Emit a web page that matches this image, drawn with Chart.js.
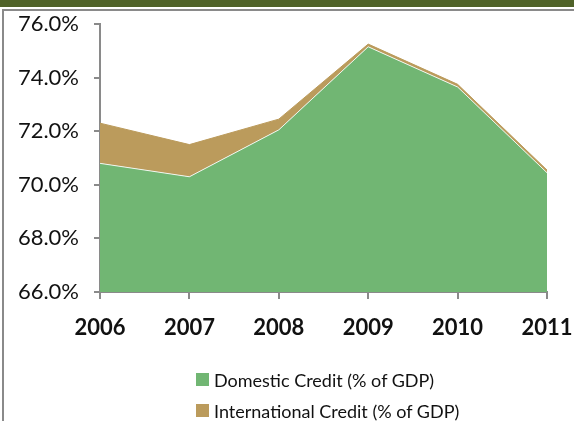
<!DOCTYPE html>
<html>
<head>
<meta charset="utf-8">
<script src="https://cdn.jsdelivr.net/npm/chart.js@4.4.1/dist/chart.umd.min.js"></script>
<style>
    body { margin: 0; background: #fff; }
    #wrap { position: relative; width: 574px; height: 421px; overflow: hidden; }
    #credit-chart { position: absolute; left: 0; top: 0; }
    #legend { position: absolute; left: 196px; top: 364px; font-family: Lato, sans-serif; font-size: 18px; color: #111; }
    #legend .item { display: flex; align-items: center; height: 31px; }
    #legend .swatch { width: 13px; height: 13px; margin-right: 5px; }
</style>
</head>
<body>
<div id="wrap">
    <canvas id="credit-chart" width="574" height="421"></canvas>
    <div id="legend"></div>
</div>
<script>
const years = ['2006', '2007', '2008', '2009', '2010', '2011'];
const domesticCredit = [70.8, 70.3, 72.05, 75.15, 73.65, 70.45];
const internationalCredit = [1.5, 1.2, 0.4, 0.1, 0.1, 0.1];
const yTicks = [66, 68, 70, 72, 74, 76];

const GREEN = '#71B673';
const BROWN = '#BB9B5C';
const AXIS = '#8A8A8A';

// olive band + grey frame around the whole panel
const framePlugin = {
    id: 'frame',
    beforeDraw(chart) {
        const ctx = chart.ctx;
        ctx.save();
        ctx.fillStyle = '#4F6228';
        ctx.fillRect(0, 0, chart.width, 7);
        ctx.fillStyle = AXIS;
        ctx.fillRect(2, 9, chart.width - 2, 2);
        ctx.fillRect(2, 9, 2, chart.height - 9);
        ctx.restore();
    }
};

const chart = new Chart(document.getElementById('credit-chart').getContext('2d'), {
    type: 'line',
    data: {
        labels: years,
        datasets: [{
            label: 'Domestic Credit (% of GDP)',
            data: domesticCredit,
            backgroundColor: GREEN,
            borderColor: 'rgba(255,255,255,0.85)',
            borderWidth: 1,
            fill: 'start',
            pointRadius: 0,
            tension: 0
        }, {
            label: 'International Credit (% of GDP)',
            data: internationalCredit,
            backgroundColor: BROWN,
            borderColor: BROWN,
            borderWidth: 1,
            fill: '-1',
            pointRadius: 0,
            tension: 0
        }]
    },
    options: {
        responsive: false,
        animation: false,
        layout: { padding: { top: 24, right: 27, left: 0, bottom: 0 } },
        plugins: {
            legend: { display: false },
            tooltip: { enabled: false }
        },
        scales: {
            x: {
                offset: false,
                grid: { drawOnChartArea: false, color: AXIS, tickLength: 7, lineWidth: 2 },
                border: { color: AXIS, width: 2 },
                ticks: {
                    color: '#111',
                    padding: 16,
                    maxRotation: 0,
                    autoSkip: false,
                    font: { family: 'Lato', size: 22, weight: 'bold' }
                },
                afterFit: (scale) => {
                    scale.height = 129;
                    scale.paddingLeft = 0;
                    scale.paddingRight = 0;
                }
            },
            y: {
                stacked: true,
                min: yTicks[0],
                max: yTicks[yTicks.length - 1],
                afterBuildTicks: (scale) => {
                    scale.ticks = yTicks.map(v => ({ value: v }));
                },
                grid: { drawOnChartArea: false, color: AXIS, tickLength: 6, lineWidth: 2 },
                border: { color: AXIS, width: 2 },
                ticks: {
                    color: '#111',
                    padding: 15,
                    font: { family: 'Lato', size: 22 },
                    callback: (v) => v.toFixed(1) + '%'
                },
                afterFit: (scale) => {
                    scale.width = 100;
                    scale.paddingTop = 0;
                    scale.paddingBottom = 0;
                }
            }
        }
    },
    plugins: [framePlugin]
});

// legend stacked in two rows under the axis
const legendEl = document.getElementById('legend');
chart.data.datasets.forEach(ds => {
    const item = document.createElement('div');
    item.className = 'item';
    const sw = document.createElement('span');
    sw.className = 'swatch';
    sw.style.background = ds.backgroundColor;
    const txt = document.createElement('span');
    txt.textContent = ds.label;
    item.appendChild(sw);
    item.appendChild(txt);
    legendEl.appendChild(item);
});
</script>
</body>
</html>
